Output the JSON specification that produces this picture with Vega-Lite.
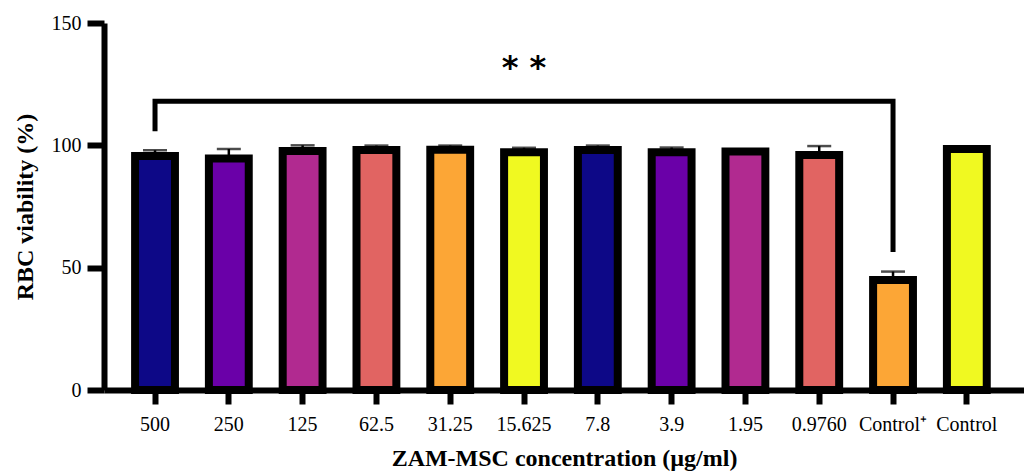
{
  "$schema": "https://vega.github.io/schema/vega-lite/v6.json",
  "autosize": "none",
  "width": 920,
  "height": 367,
  "padding": {"left": 104, "top": 23, "right": 0, "bottom": 82},
  "background": "white",
  "config": {"view": {"stroke": null}, "font": "'Times New Roman', 'Liberation Serif', serif"},
  "datasets": {
    "bars": [
      {"conc": "500", "viability": 95.6, "upper": 98.0},
      {"conc": "250", "viability": 94.6, "upper": 98.5},
      {"conc": "125", "viability": 97.7, "upper": 100.0},
      {"conc": "62.5", "viability": 98.1, "upper": 99.9},
      {"conc": "31.25", "viability": 98.2, "upper": 99.9},
      {"conc": "15.625", "viability": 97.2, "upper": 99.0},
      {"conc": "7.8", "viability": 98.1, "upper": 99.9},
      {"conc": "3.9", "viability": 97.2, "upper": 99.1},
      {"conc": "1.95", "viability": 97.5, "upper": 97.5},
      {"conc": "0.9760", "viability": 96.0, "upper": 99.7},
      {"conc": "Control⁺", "viability": 45.0, "upper": 48.4},
      {"conc": "Control", "viability": 98.5, "upper": 98.5}
    ],
    "bracket": [
      {"conc": "500", "y": 105.8, "step": 1},
      {"conc": "500", "y": 118.0, "step": 2},
      {"conc": "Control⁺", "y": 118.0, "step": 3},
      {"conc": "Control⁺", "y": 56.4, "step": 4}
    ],
    "sig": [
      {"conc": "15.625", "y": 131.5, "label": "* *"}
    ]
  },
  "encoding": {
    "x": {
      "field": "conc",
      "type": "nominal",
      "sort": ["500", "250", "125", "62.5", "31.25", "15.625", "7.8", "3.9", "1.95", "0.9760", "Control⁺", "Control"],
      "scale": {"paddingInner": 0.46, "paddingOuter": 0.463, "align": 0.455},
      "axis": {
        "title": "ZAM-MSC concentration (µg/ml)",
        "titleFont": "'Times New Roman', 'Liberation Serif', serif",
        "titleFontSize": 24,
        "titleFontWeight": "bold",
        "titleColor": "black",
        "titlePadding": 12,
        "labelFont": "'Times New Roman', 'Liberation Serif', serif",
        "labelFontSize": 20,
        "labelColor": "black",
        "labelAngle": 0,
        "labelPadding": 10,
        "domainColor": "black",
        "domainWidth": 6,
        "tickColor": "black",
        "tickWidth": 6,
        "tickSize": 14
      }
    }
  },
  "layer": [
    {
      "data": {"name": "bars"},
      "mark": {"type": "bar", "stroke": "black", "strokeWidth": 8, "strokeJoin": "miter"},
      "encoding": {
        "y": {
          "field": "viability",
          "type": "quantitative",
          "scale": {"domain": [0, 150], "nice": false},
          "axis": {
            "title": "RBC viability (%)",
            "values": [0, 50, 100, 150],
            "grid": false,
            "titleFont": "'Times New Roman', 'Liberation Serif', serif",
            "titleFontSize": 24,
            "titleFontWeight": "bold",
            "titleColor": "black",
            "titlePadding": 14,
            "labelFont": "'Times New Roman', 'Liberation Serif', serif",
            "labelFontSize": 20,
            "labelColor": "black",
            "labelPadding": 6,
            "domainColor": "black",
            "domainWidth": 6,
            "tickColor": "black",
            "tickWidth": 6,
            "tickSize": 17
          }
        },
        "color": {
          "field": "conc",
          "type": "nominal",
          "sort": ["500", "250", "125", "62.5", "31.25", "15.625", "7.8", "3.9", "1.95", "0.9760", "Control⁺", "Control"],
          "scale": {"range": ["#0d0887", "#6a00a8", "#b12a90", "#e16462", "#fca636", "#f0f921", "#0d0887", "#6a00a8", "#b12a90", "#e16462", "#fca636", "#f0f921"]},
          "legend": null
        }
      }
    },
    {
      "data": {"name": "bars"},
      "mark": {"type": "rule", "color": "black", "strokeWidth": 2.5},
      "encoding": {
        "y": {"field": "viability", "type": "quantitative"},
        "y2": {"field": "upper"}
      }
    },
    {
      "data": {"name": "bars"},
      "mark": {"type": "tick", "color": "black", "size": 24, "thickness": 2.5, "orient": "horizontal"},
      "encoding": {
        "y": {"field": "upper", "type": "quantitative"}
      }
    },
    {
      "data": {"name": "bracket"},
      "mark": {"type": "line", "color": "black", "strokeWidth": 5, "strokeJoin": "miter", "strokeCap": "butt"},
      "encoding": {
        "y": {"field": "y", "type": "quantitative"},
        "order": {"field": "step", "type": "quantitative"}
      }
    },
    {
      "data": {"name": "sig"},
      "mark": {"type": "text", "font": "DejaVu Sans", "fontSize": 32, "fontWeight": "bold", "color": "black", "baseline": "middle", "align": "center"},
      "encoding": {
        "y": {"field": "y", "type": "quantitative"},
        "text": {"field": "label"}
      }
    }
  ]
}
